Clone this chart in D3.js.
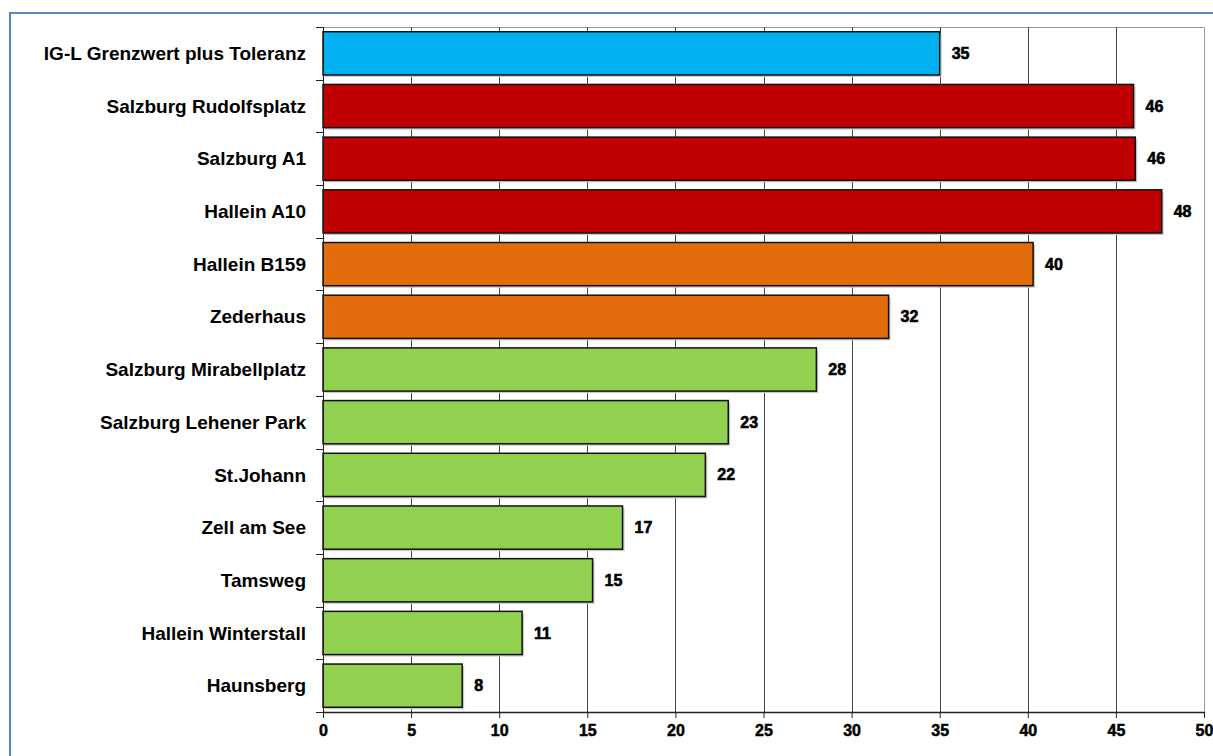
<!DOCTYPE html>
<html>
<head>
<meta charset="utf-8">
<script src="https://cdn.jsdelivr.net/npm/d3@7"></script>
<style>
  body { margin: 0; background: #fff; }
  text { font-family: "Liberation Sans", Arial, sans-serif; }
</style>
</head>
<body>
<div id="chart"></div>
<script>
const stations = ['IG-L Grenzwert plus Toleranz', 'Salzburg Rudolfsplatz', 'Salzburg A1', 'Hallein A10',
  'Hallein B159', 'Zederhaus', 'Salzburg Mirabellplatz', 'Salzburg Lehener Park', 'St.Johann',
  'Zell am See', 'Tamsweg', 'Hallein Winterstall', 'Haunsberg'];
const values = [35, 46.0, 46.1, 47.6, 40.3, 32.1, 28.0, 23.0, 21.7, 17.0, 15.3, 11.3, 7.9];
const groups = ['limit', 'high', 'high', 'high', 'mid', 'mid', 'low', 'low', 'low', 'low', 'low', 'low', 'low'];
const xTicks = [0, 5, 10, 15, 20, 25, 30, 35, 40, 45, 50];

const colors = { limit: '#00b0f0', high: '#c00000', mid: '#e36c0a', low: '#92d050' };

const width = 1213, height = 756;
const margin = { top: 27, right: 9, bottom: 44, left: 323 };

const data = stations.map((s, i) => ({ name: s, value: values[i], group: groups[i] }));

const svg = d3.select('#chart').append('svg').attr('width', width).attr('height', height);

// outer frame
svg.append('rect').attr('x', 10).attr('y', 13).attr('width', 1240).attr('height', 800)
  .attr('fill', 'none').attr('stroke', '#5b86c4').attr('stroke-width', 2);

const x = d3.scaleLinear().domain([0, 50]).range([margin.left, width - margin.right]);
const y = d3.scaleBand().domain(stations).range([margin.top, height - margin.bottom])
  .paddingInner(0.18).paddingOuter(0.09);
const step = y.step();

// plot border (top, right)
svg.append('path')
  .attr('d', `M${margin.left},${margin.top + 0.5}H${x(50) + 0.5}V${height - margin.bottom}`)
  .attr('fill', 'none').attr('stroke', '#999');

// grid lines
svg.append('g').selectAll('line').data(xTicks.filter(t => t > 0 && t < 50)).join('line')
  .attr('x1', d => Math.round(x(d)) + 0.5).attr('x2', d => Math.round(x(d)) + 0.5)
  .attr('y1', margin.top).attr('y2', height - margin.bottom)
  .attr('stroke', '#444').attr('stroke-width', 1);

// bars (with a light shadow)
const bars = svg.append('g');
bars.selectAll('rect.shadow').data(data).join('rect').attr('class', 'shadow')
  .attr('x', x(0) + 2).attr('y', d => y(d.name) + 2)
  .attr('width', d => x(d.value) - x(0)).attr('height', y.bandwidth())
  .attr('fill', '#c8c8c8');
bars.selectAll('rect.bar').data(data).join('rect').attr('class', 'bar')
  .attr('x', x(0)).attr('y', d => y(d.name))
  .attr('width', d => x(d.value) - x(0)).attr('height', y.bandwidth())
  .attr('fill', d => colors[d.group]).attr('stroke', '#111').attr('stroke-width', 1.5);

// value labels
svg.append('g').selectAll('text').data(data).join('text')
  .attr('x', d => x(d.value) + 12).attr('y', d => y(d.name) + y.bandwidth() / 2)
  .attr('dy', '0.35em').style('font-size', '16px').style('font-weight', 'bold')
  .attr('fill', '#000').attr('stroke', '#000').attr('stroke-width', 0.6)
  .text(d => d3.format('.0f')(d.value));

// category axis
const yAxis = svg.append('g');
yAxis.append('line').attr('x1', margin.left + 0.5).attr('x2', margin.left + 0.5)
  .attr('y1', margin.top).attr('y2', height - margin.bottom).attr('stroke', '#222');
const bounds = stations.map(s => y(s) - step * 0.09).concat([height - margin.bottom]);
yAxis.selectAll('line.tick').data(bounds).join('line').attr('class', 'tick')
  .attr('x1', margin.left - 7).attr('x2', margin.left)
  .attr('y1', d => Math.round(d) + 0.5).attr('y2', d => Math.round(d) + 0.5).attr('stroke', '#222');
yAxis.selectAll('text').data(data).join('text')
  .attr('x', 306).attr('y', d => y(d.name) + y.bandwidth() / 2)
  .attr('dy', '0.35em').attr('text-anchor', 'end')
  .style('font-size', '19px').style('font-weight', 'bold').attr('fill', '#000')
  .text(d => d.name);

// value axis
const xAxis = svg.append('g').attr('transform', `translate(0,${height - margin.bottom})`)
  .call(d3.axisBottom(x).tickValues(xTicks).tickSize(6).tickPadding(7).tickSizeOuter(0));
xAxis.select('.domain').attr('stroke', '#222').attr('stroke-width', 1.5);
xAxis.selectAll('.tick line').attr('stroke', '#222');
xAxis.selectAll('.tick text')
  .style('font-size', '16px').style('font-weight', 'bold')
  .style('font-family', '"Liberation Sans", Arial, sans-serif').attr('fill', '#000')
  .attr('stroke', '#000').attr('stroke-width', 0.5);
</script>
</body>
</html>
